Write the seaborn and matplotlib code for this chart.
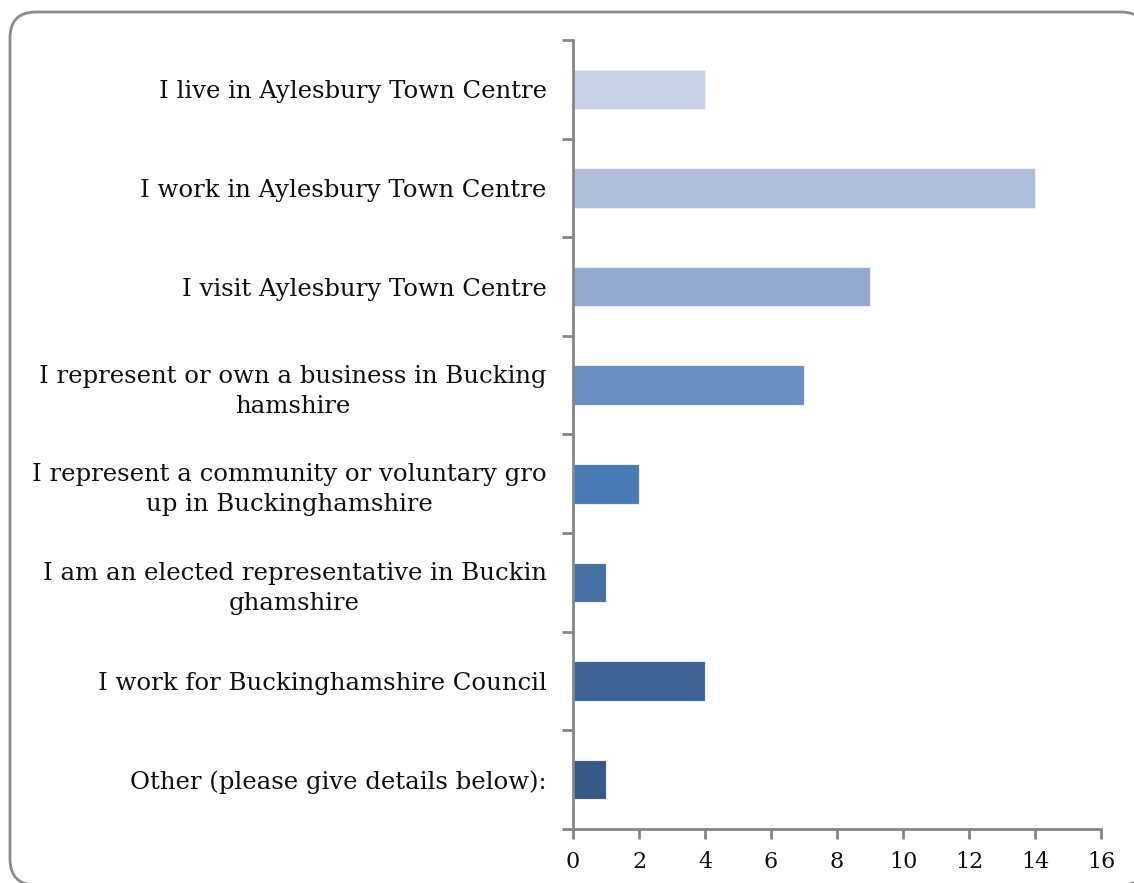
import matplotlib
matplotlib.use("Agg")
import matplotlib.pyplot as plt
import seaborn as sns
import numpy as np
import pandas as pd
from matplotlib.patches import FancyBboxPatch
from matplotlib.ticker import FixedLocator

categories = [
    "I live in Aylesbury Town Centre",
    "I work in Aylesbury Town Centre",
    "I visit Aylesbury Town Centre",
    "I represent or own a business in Bucking\nhamshire",
    "I represent a community or voluntary gro\nup in Buckinghamshire",
    "I am an elected representative in Buckin\nghamshire",
    "I work for Buckinghamshire Council",
    "Other (please give details below):",
]
counts = [4, 14, 9, 7, 2, 1, 4, 1]
bar_colors = ["#C7D0E4", "#AFBFDB", "#95A9D0", "#6A90C3",
              "#4A7AB5", "#4671A6", "#3E6496", "#375986"]
x_ticks = [0, 2, 4, 6, 8, 10, 12, 14, 16]

sns.set_style("white")
plt.rcParams["font.family"] = ["DejaVu Serif"]

df = pd.DataFrame({"category": categories, "count": counts})

fig = plt.figure(figsize=(11.34, 8.83), dpi=100)
ax = fig.add_axes([0.5053, 0.0612, 0.4656, 0.8935])

sns.barplot(data=df, x="count", y="category", hue="category",
            palette=bar_colors, saturation=1, width=0.4, orient="h", legend=False,
            edgecolor="#E8EEF7", linewidth=0.8, ax=ax)

spine_col = "#868686"
ax.set_xlim(0, 16)
ax.set_ylim(7.5, -0.5)
ax.set_xticks(x_ticks)
ax.set_xlabel("")
ax.set_ylabel("")
for side in ["top", "right"]:
    ax.spines[side].set_visible(False)
for side in ["left", "bottom"]:
    ax.spines[side].set_color(spine_col)
    ax.spines[side].set_linewidth(2)

ax.yaxis.set_minor_locator(FixedLocator(np.arange(-0.5, 8, 1)))
ax.tick_params(axis="y", which="major", length=0, pad=19, labelsize=17.6, labelcolor="#111111")
ax.tick_params(axis="y", which="minor", length=8, width=2, color=spine_col, direction="out", left=True)
ax.tick_params(axis="x", which="major", length=7, width=2, color=spine_col, direction="out",
               bottom=True, labelsize=16, pad=9, labelcolor="#111111")
for lbl in ax.get_yticklabels():
    lbl.set_horizontalalignment("right")
    lbl.set_multialignment("center")
    lbl.set_linespacing(1.38)

# rounded frame in pixel coordinates, running off the canvas like the source;
# white fill keeps agg from clipping the curved corners into straight lines
border = FancyBboxPatch((10, -2), 1137, 873,
                        boxstyle="round,pad=0,rounding_size=26",
                        transform=None, facecolor="white",
                        edgecolor="#8C8C8C", linewidth=2, clip_on=False, zorder=-1)
fig.patches.append(border)

fig.savefig("out.png", dpi=100)
